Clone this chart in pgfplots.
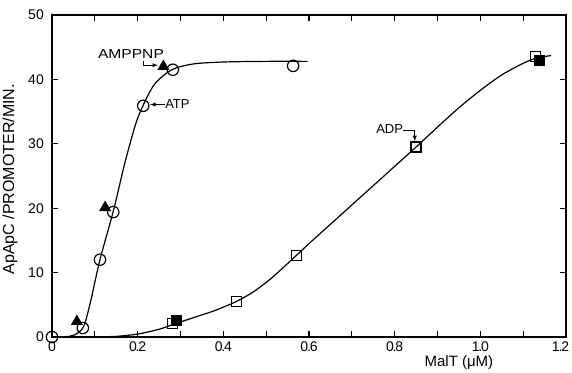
\documentclass[border=0pt]{standalone}
\usepackage{fontspec}
\setmainfont{Liberation Sans}
\usepackage{pgfplots}
\pgfplotsset{compat=1.18}
\newcommand{\dd}[2]{#1\kern-1.2pt.\kern-1.2pt#2}
\begin{document}
\begin{tikzpicture}
\useasboundingbox (-52pt,-35pt) rectangle (520pt,337pt);
\begin{axis}[
  at={(0,0)}, anchor=south west,
  scale only axis, width=514pt, height=322pt,
  xmin=0, xmax=1.2, ymin=0, ymax=50,
  axis line style={line width=1.6pt},
  xtick={0,0.1,...,1.21}, xticklabels={0,,\dd02,,\dd04,,\dd06,,\dd08,,\dd10,,\dd12\kern11pt},
  ytick={0,10,20,30,40,50},
  tick align=inside, major tick length=6pt,
  tick style={line width=1.1pt, black},
  /pgf/number format/assume math mode=true,
  ticklabel style={font=\fontsize{14}{16}\selectfont, inner sep=0pt},
  xticklabel style={anchor=north, yshift=-5pt, text depth=0pt},
  yticklabel style={anchor=east, xshift=-8pt},
  clip=false,
]
% ATP fitted curve
\addplot[smooth, line width=1.2pt, tension=0.5] coordinates {
 (0,0) (0.04,0.1) (0.06,0.6) (0.075,1.8) (0.09,5.5) (0.112,12) (0.143,19.5) (0.17,27) (0.195,33) (0.213,36) (0.24,39.3) (0.28,41.5) (0.33,42.4) (0.4,42.7) (0.5,42.8) (0.597,42.8)};
% ADP fitted curve
\addplot[smooth, line width=1.2pt, tension=0.4] coordinates {
 (0,0) (0.1,0.02) (0.15,0.1) (0.2,0.45) (0.25,1.2) (0.285,2.0) (0.33,3.0) (0.38,4.1) (0.43,5.5) (0.47,7.0) (0.51,9.0) (0.55,11.4) (0.6,14.5) (0.65,17.5) (0.7,20.5) (0.75,23.5) (0.8,26.5) (0.85,29.5) (0.9,32.6) (0.95,35.6) (1.0,38.3) (1.05,40.7) (1.1,42.5) (1.13,43.3) (1.165,43.7)};
% ATP open circles
\addplot[only marks, mark=o, mark size=5.7pt, mark options={line width=1.2pt, fill=white}] coordinates {
 (0,0) (0.072,1.4) (0.112,12) (0.143,19.4) (0.213,35.9) (0.282,41.5) (0.563,42.1)};
% AMPPNP filled triangles
\addplot[only marks, mark=triangle*, mark size=6.5pt, mark options={fill=black, draw=black}] coordinates {
 (0.058,2.4) (0.124,20.1) (0.26,42)};
% ADP filled squares
\addplot[only marks, mark=square*, mark size=5pt, mark options={fill=black}] coordinates {
 (0.29,2.6) (1.138,43.0)};
% ADP open squares
\addplot[only marks, mark=square, mark size=5pt, mark options={line width=1.2pt, fill=white}] coordinates {
 (0.282,2.1) (0.43,5.5) (0.57,12.7) (0.85,29.5) (1.129,43.5)};
% annotations
\node[anchor=base west, inner sep=0pt, font=\fontsize{13}{15}\selectfont\addfontfeatures{FakeStretch=1.2}] at (axis cs:0.107,43.2) {AMPPNP};
\draw[line width=0.9pt, -{latex}] (axis cs:0.2125,42.9) |- (axis cs:0.2475,42.2);
\node[anchor=west, inner sep=0pt, font=\fontsize{13}{15}\selectfont] at (axis cs:0.264,36.1) {ATP};
\draw[line width=0.9pt, -{latex}] (axis cs:0.264,36.1) -- (axis cs:0.229,36.1);
\node[anchor=east, inner sep=0pt, font=\fontsize{13}{15}\selectfont] at (axis cs:0.82,32.3) {ADP};
\draw[line width=0.9pt, -{latex}] (axis cs:0.82,32.1) -| (axis cs:0.847,30.4);
\node[anchor=north, inner sep=0pt, font=\fontsize{15}{17}\selectfont] at (axis cs:0.95,-2.8) {MalT (μM)};
\node[rotate=90, inner sep=0pt, font=\fontsize{16}{18}\selectfont] at ([xshift=-42pt]rel axis cs:0,0.49) {ApApC /PROMOTER/MIN.};
\end{axis}
\end{tikzpicture}
\end{document}
